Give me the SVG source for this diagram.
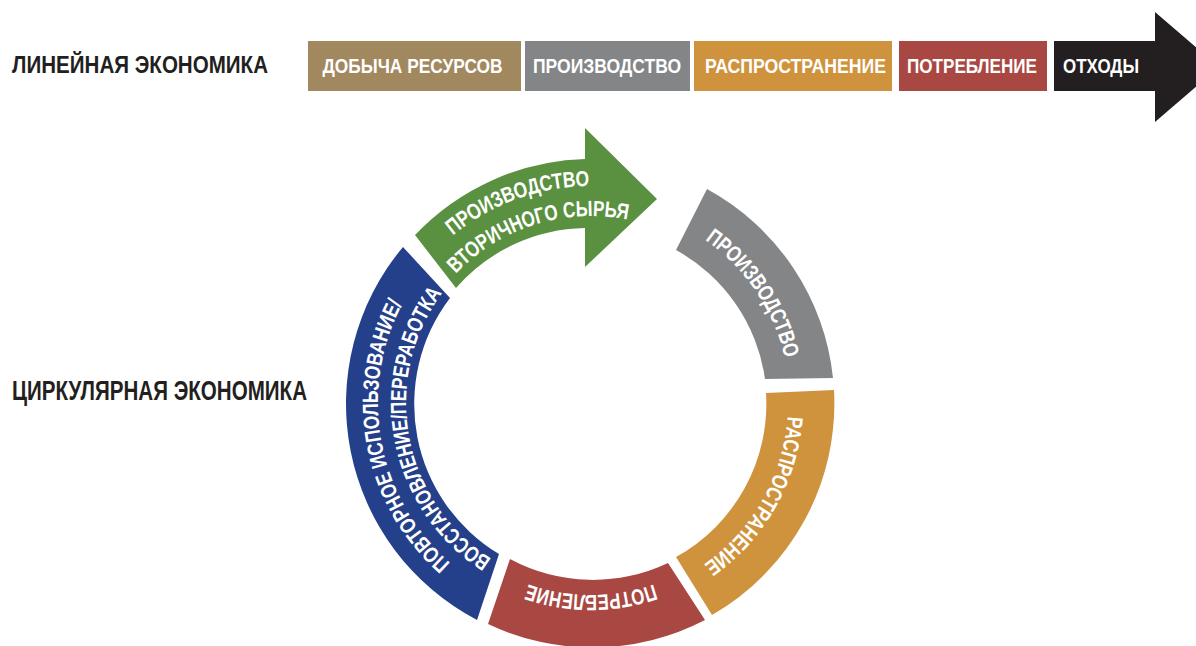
<svg xmlns="http://www.w3.org/2000/svg" width="1196" height="646" viewBox="0 0 1196 646">
<style>
.title{font-family:"Liberation Sans Narrow","Liberation Sans",Arial,sans-serif;font-weight:bold;fill:#231F20}
.lbl{font-family:"Liberation Sans Narrow","Liberation Sans",Arial,sans-serif;font-weight:bold;font-size:21px;fill:#FFFFFF}
.arc{font-size:22px}
.mid{text-anchor:middle}
</style>
<defs>
<path id="pGray" d="M678.2,224.1 A199,199 0 0 1 789.5,389.1"/>
<path id="pOrange" d="M788,401.3 A197,197 0 0 1 691,572.7"/>
<path id="pRed" d="M681.1,572.5 A192,192 0 0 1 500.9,572.5"/>
<path id="pBlueOut" d="M486.1,588.4 A213,213 0 0 1 426.6,267.5"/>
<path id="pBlueIn" d="M499.9,564 A185,185 0 0 1 448.3,285.3"/>
<path id="pGreenOut" d="M413.2,278.5 A217,217 0 0 1 647.2,193.4"/>
<path id="pGreenIn" d="M442.6,289.2 A187,187 0 0 1 647.2,224.7"/>
</defs>
<rect width="1196" height="646" fill="#FFFFFF"/>

<g id="title-linear">
<text class="title" x="12" y="73" font-size="23" textLength="256" lengthAdjust="spacingAndGlyphs">ЛИНЕЙНАЯ ЭКОНОМИКА</text>
</g>
<g id="title-circular">
<text class="title" x="12" y="400" font-size="27" textLength="295" lengthAdjust="spacingAndGlyphs">ЦИРКУЛЯРНАЯ ЭКОНОМИКА</text>
</g>

<g id="lin-extraction">
<rect x="308" y="41" width="213" height="50" fill="#A2885F"/>
<text class="lbl mid" x="412.5" y="73" textLength="180" lengthAdjust="spacingAndGlyphs">ДОБЫЧА РЕСУРСОВ</text>
</g>
<g id="lin-production">
<rect x="525" y="41" width="165" height="50" fill="#848587"/>
<text class="lbl mid" x="607" y="73" textLength="148" lengthAdjust="spacingAndGlyphs">ПРОИЗВОДСТВО</text>
</g>
<g id="lin-distribution">
<rect x="694" y="41" width="198" height="50" fill="#D0933D"/>
<text class="lbl mid" x="795.5" y="73" textLength="181" lengthAdjust="spacingAndGlyphs">РАСПРОСТРАНЕНИЕ</text>
</g>
<g id="lin-consumption">
<rect x="899" y="41" width="148" height="50" fill="#A94843"/>
<text class="lbl mid" x="972" y="73" textLength="130" lengthAdjust="spacingAndGlyphs">ПОТРЕБЛЕНИЕ</text>
</g>
<g id="lin-waste">
<polygon points="1054,41 1155,41 1155,12 1219,67 1155,122 1155,91 1054,91" fill="#231F20"/>
<text class="lbl mid" x="1101" y="73" textLength="76" lengthAdjust="spacingAndGlyphs">ОТХОДЫ</text>
</g>

<g id="circ-production">
<path d="M707,189 A244,244 0 0 1 833,378 L765,379 A175,175 0 0 0 676,250 Z" fill="#848587"/>
<text class="lbl arc"><textPath href="#pGray" startOffset="50%" text-anchor="middle" textLength="146" lengthAdjust="spacingAndGlyphs">ПРОИЗВОДСТВО</textPath></text>
</g>
<g id="circ-distribution">
<path d="M834,390 A244,244 0 0 1 712,615 L676,557 A175,175 0 0 0 766,393 Z" fill="#D0933D"/>
<text class="lbl arc"><textPath href="#pOrange" startOffset="50%" text-anchor="middle" textLength="176" lengthAdjust="spacingAndGlyphs">РАСПРОСТРАНЕНИЕ</textPath></text>
</g>
<g id="circ-consumption">
<path d="M705,620 A244,244 0 0 1 488,624 L510,559 A175,175 0 0 0 668,563 Z" fill="#A94843"/>
<text class="lbl arc"><textPath href="#pRed" startOffset="50%" text-anchor="middle" textLength="128" lengthAdjust="spacingAndGlyphs">ПОТРЕБЛЕНИЕ</textPath></text>
</g>
<g id="circ-reuse">
<path d="M477,620 A244,244 0 0 1 403,247 L450,298 A175,175 0 0 0 499,554 Z" fill="#24408A"/>
<text class="lbl arc"><textPath href="#pBlueOut" startOffset="50%" text-anchor="middle" textLength="284" lengthAdjust="spacingAndGlyphs">ПОВТОРНОЕ ИСПОЛЬЗОВАНИЕ/</textPath></text>
<text class="lbl arc"><textPath href="#pBlueIn" startOffset="50%" text-anchor="middle" textLength="303" lengthAdjust="spacingAndGlyphs">ВОССТАНОВЛЕНИЕ/ПЕРЕРАБОТКА</textPath></text>
</g>
<g id="circ-secondary">
<path d="M415,235 A244,244 0 0 1 585,159 L585,128 L657,199 L585,267 L585,228 A175,175 0 0 0 456,288 Z" fill="#5A9140"/>
<text class="lbl arc"><textPath href="#pGreenOut" startOffset="50%" text-anchor="middle" textLength="148" lengthAdjust="spacingAndGlyphs">ПРОИЗВОДСТВО</textPath></text>
<text class="lbl arc"><textPath href="#pGreenIn" startOffset="50%" text-anchor="middle" textLength="188" lengthAdjust="spacingAndGlyphs">ВТОРИЧНОГО СЫРЬЯ</textPath></text>
</g>

<g id="connectors"></g>
</svg>
